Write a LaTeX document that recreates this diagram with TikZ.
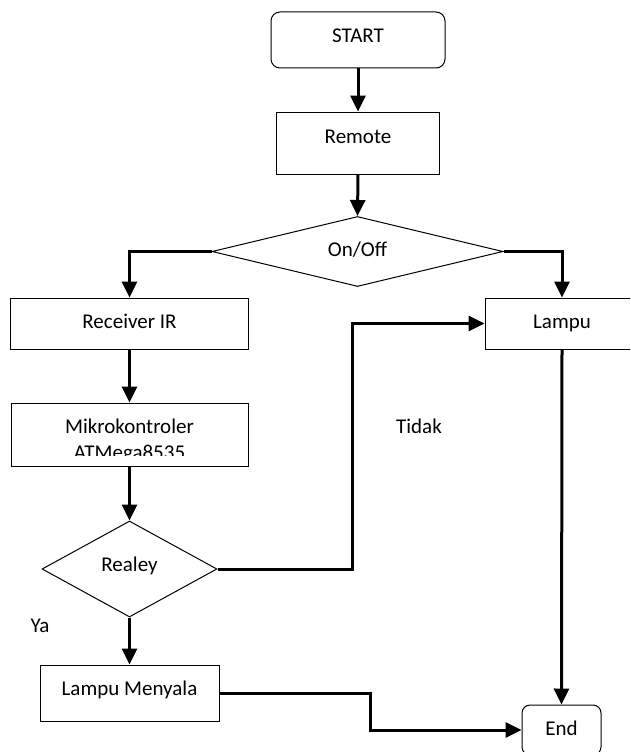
\documentclass[tikz,border=0pt]{standalone}
\usepackage{fontspec}
\setmainfont{Carlito}
\usetikzlibrary{shapes.geometric, arrows.meta}

\tikzset{
    base/.style={draw, line width=1pt, inner sep=0pt, text height=14.5pt, text depth=4.5pt},
    box/.style={base, rectangle},
    term/.style={base, rectangle, rounded corners=9pt},
    choice/.style={base, diamond},
    conn/.style={line width=3pt, -{Triangle[length=16pt,width=15pt]}},
}

\begin{document}
\begin{tikzpicture}[x=1pt, y=-1pt, font=\fontsize{21}{26}\selectfont]
    \useasboundingbox (0,0) rectangle (630,752);
    \clip (0,0) rectangle (630,752);

    % Blok
    \node[term, minimum width=174pt, minimum height=56pt, text depth=8.5pt] (start) at (358,40) {START};
    \node[box, minimum width=163pt, minimum height=62pt, text depth=14.5pt] (remote) at (358,143) {Remote};
    \node[choice, aspect=4.16, minimum width=291pt, minimum height=70pt] (onoff) at (357.5,251.5) {On/Off};
    \node[box, minimum width=238pt, minimum height=51pt] (recv) at (129.5,323.5) {Receiver IR};
    \node[box, minimum width=154pt, minimum height=51pt] (lampu) at (562,323.5) {Lampu};
    \node[box, minimum width=237pt, minimum height=63pt] (mikro) at (129.5,434.5) {};
    \begin{scope}
        \clip (11,403) rectangle (248,455); % teks terpotong
        \node[align=center, inner sep=0pt] (mikro-text) at (129.5,441) {Mikrokontroler\\ATMega8535};
    \end{scope}
    \node[choice, aspect=1.82, minimum width=175pt, minimum height=96pt, text depth=10.5pt] (realey) at (129.5,569) {Realey};
    \node[box, minimum width=179pt, minimum height=56pt, text depth=10.5pt] (nyala) at (129.5,693) {Lampu Menyala};
    \node[term, rounded corners=8pt, minimum width=79pt, minimum height=50pt] (end) at (561.5,730) {End};

    % Label
    \node[anchor=base] (tidak) at (419,433) {Tidak};
    \node[anchor=base] (ya) at (40,632) {Ya};

    % Panah
    \draw[conn] (start.south) -- (remote.north);
    \draw[conn] (remote.south) -- (onoff.north);
    \draw[conn] (onoff.west) -| (recv.north);
    \draw[conn] (onoff.east) -| (lampu.north);
    \draw[conn] (recv.south) -- (mikro.north);
    \draw[conn] (mikro.south) -- (realey.north);
    \draw[conn] (realey.east) -- ++(135,0) |- (lampu.west);
    \draw[conn] (realey.south) -- (nyala.north);
    \draw[conn] (nyala.east) -- ++(151,0) |- (end.west);
    \draw[conn] (lampu.south) -- (end.north);
\end{tikzpicture}
\end{document}
